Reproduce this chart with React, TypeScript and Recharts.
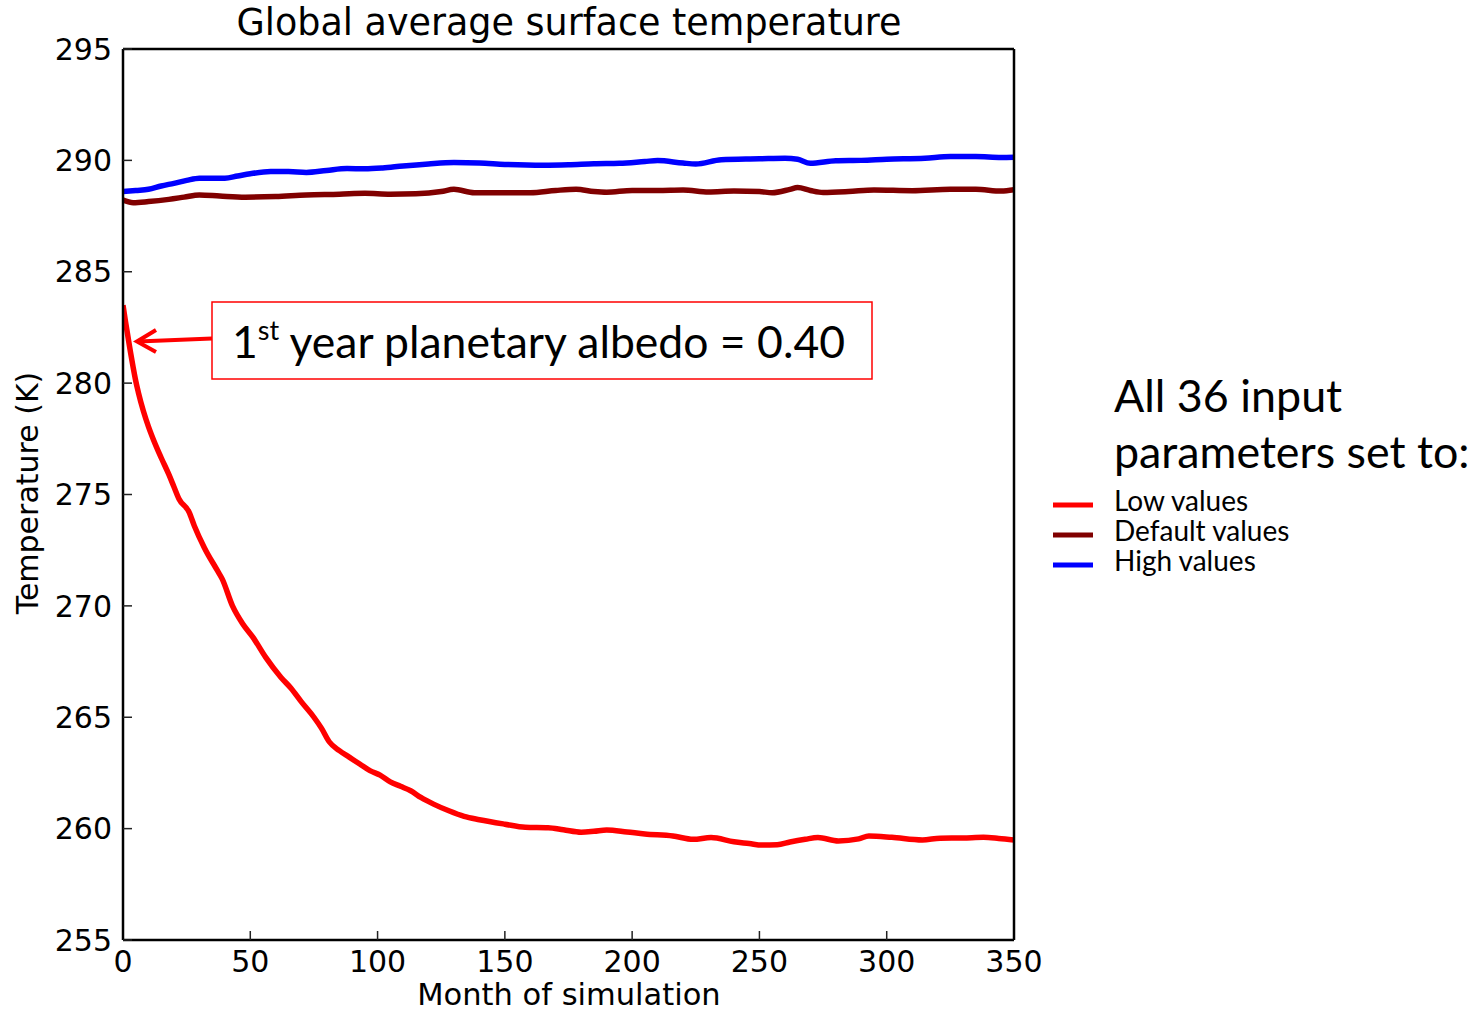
import React from 'react';
import { LineChart, Line, XAxis, YAxis } from 'recharts';

// months and temperatures (K)
const lowMonths = [
  0, 1, 2, 3, 4, 5, 6, 8, 10, 12, 15, 18, 20, 22, 26, 28, 32, 37, 39, 43, 47, 51, 56, 62, 66, 70,
  75, 78, 81, 85, 89, 93, 97, 101, 105, 109, 113, 117, 122, 128, 134, 140, 150, 158, 167, 173, 180,
  185, 190, 198, 205, 216, 224, 231, 240, 246, 251, 257, 262, 268, 273, 281, 289, 293, 302, 314, 321,
  330, 338, 344, 350,
];
const lowTemps = [
  283.5, 282.75, 282.05, 281.35, 280.7, 280.1, 279.6, 278.75, 278.05, 277.45, 276.65, 275.9, 275.35,
  274.8, 274.2, 273.6, 272.6, 271.6, 271.2, 270.0, 269.2, 268.6, 267.7, 266.8, 266.3, 265.7, 265.0,
  264.5, 263.9, 263.5, 263.2, 262.9, 262.6, 262.4, 262.1, 261.9, 261.7, 261.4, 261.1, 260.8, 260.55,
  260.4, 260.2, 260.06, 260.04, 259.95, 259.84, 259.88, 259.94, 259.85, 259.76, 259.67, 259.52,
  259.6, 259.41, 259.33, 259.26, 259.28, 259.4, 259.52, 259.6, 259.45, 259.54, 259.67, 259.61,
  259.49, 259.57, 259.58, 259.61, 259.56, 259.49,
];

const defaultMonths = [
  0, 4, 10, 18, 24, 30, 38, 48, 60, 72, 85, 95, 105, 115, 125, 130, 138, 150, 160, 170, 178, 185,
  190, 200, 210, 220, 230, 240, 250, 255, 262, 265, 270, 275, 285, 295, 310, 325, 335, 345, 350,
];
const defaultTemps = [
  288.22, 288.1, 288.15, 288.25, 288.35, 288.45, 288.4, 288.35, 288.38, 288.45, 288.48, 288.52,
  288.48, 288.5, 288.6, 288.7, 288.55, 288.55, 288.55, 288.65, 288.7, 288.6, 288.57, 288.65, 288.65,
  288.67, 288.58, 288.62, 288.6, 288.55, 288.7, 288.78, 288.65, 288.56, 288.6, 288.67, 288.64, 288.7,
  288.7, 288.62, 288.68,
];

const highMonths = [
  0, 5, 10, 15, 20, 25, 30, 35, 40, 45, 50, 58, 65, 72, 80, 88, 95, 102, 110, 120, 130, 140, 150,
  165, 175, 185, 195, 205, 210, 220, 225, 235, 250, 260, 265, 270, 280, 290, 300, 315, 325, 335, 345,
  350,
];
const highTemps = [
  288.6, 288.65, 288.7, 288.85, 288.97, 289.1, 289.2, 289.2, 289.2, 289.3, 289.4, 289.5, 289.5,
  289.46, 289.55, 289.63, 289.62, 289.66, 289.75, 289.84, 289.9, 289.88, 289.82, 289.78, 289.8,
  289.85, 289.87, 289.95, 289.99, 289.88, 289.84, 290.03, 290.07, 290.1, 290.05, 289.87, 289.98,
  290.0, 290.05, 290.1, 290.17, 290.17, 290.13, 290.14,
];

const xTicks = [0, 50, 100, 150, 200, 250, 300, 350];
const yTicks = [255, 260, 265, 270, 275, 280, 285, 290, 295];

const lowData = lowMonths.map((m, i) => ({ month: m, temp: lowTemps[i] }));
const defaultData = defaultMonths.map((m, i) => ({ month: m, temp: defaultTemps[i] }));
const highData = highMonths.map((m, i) => ({ month: m, temp: highTemps[i] }));

const series = [
  { name: 'Low values', color: '#ff0000', data: lowData },
  { name: 'Default values', color: '#800000', data: defaultData },
  { name: 'High values', color: '#0000ff', data: highData },
];

const mpl = 'DejaVu Sans, sans-serif';
const office = 'Lato, "Open Sans", sans-serif';
const tickFont = { fontSize: 30, fontFamily: mpl, fill: '#000' };
const frame = { stroke: '#000', strokeWidth: 2.5 };
const tickStroke = { stroke: '#222', strokeWidth: 1.5 };

export default function App() {
  return (
    <div style={{ position: 'absolute', left: 0, top: 0, width: 1484, height: 1011, background: '#fff' }}>
      <LineChart width={1484} height={1011} margin={{ top: 48, right: 469, bottom: 41, left: 53 }}>
        <XAxis
          type="number"
          dataKey="month"
          domain={[0, 350]}
          ticks={xTicks}
          tick={tickFont}
          tickSize={-9}
          tickMargin={20}
          height={30}
          axisLine={frame}
          tickLine={tickStroke}
          allowDataOverflow
        />
        <XAxis
          xAxisId="top"
          orientation="top"
          type="number"
          domain={[0, 350]}
          ticks={xTicks}
          tick={false}
          tickSize={-9}
          height={1}
          axisLine={frame}
          tickLine={tickStroke}
        />
        <YAxis
          type="number"
          domain={[255, 295]}
          ticks={yTicks}
          tick={tickFont}
          tickSize={-9}
          tickMargin={20}
          width={70}
          axisLine={frame}
          tickLine={tickStroke}
          allowDataOverflow
        />
        <YAxis
          yAxisId="right"
          orientation="right"
          type="number"
          domain={[255, 295]}
          ticks={yTicks}
          tick={false}
          tickSize={-9}
          width={1}
          axisLine={frame}
          tickLine={tickStroke}
        />
        {series.map((s) => (
          <Line
            key={s.name}
            data={s.data}
            dataKey="temp"
            name={s.name}
            type="monotone"
            stroke={s.color}
            strokeWidth={5.5}
            dot={false}
            isAnimationActive={false}
          />
        ))}
      </LineChart>

      <svg
        width={1484}
        height={1011}
        style={{ position: 'absolute', left: 0, top: 0, pointerEvents: 'none' }}
      >
        <text x={569} y={35} textAnchor="middle" fontFamily={mpl} fontSize={36.5} fill="#000">
          Global average surface temperature
        </text>
        <text x={569} y={1005} textAnchor="middle" fontFamily={mpl} fontSize={30.5} fill="#000">
          Month of simulation
        </text>
        <text
          x={38}
          y={493}
          textAnchor="middle"
          fontFamily={mpl}
          fontSize={30}
          fill="#000"
          transform="rotate(-90 38 493)"
        >
          Temperature (K)
        </text>

        {/* annotation */}
        <rect x={212} y={302} width={660} height={77} fill="#fff" stroke="#ff0000" strokeWidth={1.5} />
        <text x={232} y={358} fontFamily={office} fontSize={44.5} fill="#000">
          1<tspan fontSize={27} dy={-18}>st</tspan>
          <tspan dy={18}> year planetary albedo = 0.40</tspan>
        </text>
        <line x1={212} y1={338.5} x2={138} y2={341.5} stroke="#ff0000" strokeWidth={4} />
        <polyline
          points="156,330 137,341.5 156,352"
          fill="none"
          stroke="#ff0000"
          strokeWidth={4}
          strokeLinejoin="miter"
        />

        {/* legend */}
        <text x={1114} y={412} fontFamily={office} fontSize={44.8} fill="#000">
          All 36 input
        </text>
        <text x={1114} y={468} fontFamily={office} fontSize={44.8} fill="#000">
          parameters set to:
        </text>
        {series.map((s, i) => (
          <g key={s.name}>
            <line x1={1053} x2={1093} y1={505 + i * 30} y2={505 + i * 30} stroke={s.color} strokeWidth={5} />
            <text x={1114} y={511 + i * 30} fontFamily={office} fontSize={28} fill="#000">
              {s.name}
            </text>
          </g>
        ))}
      </svg>
    </div>
  );
}
